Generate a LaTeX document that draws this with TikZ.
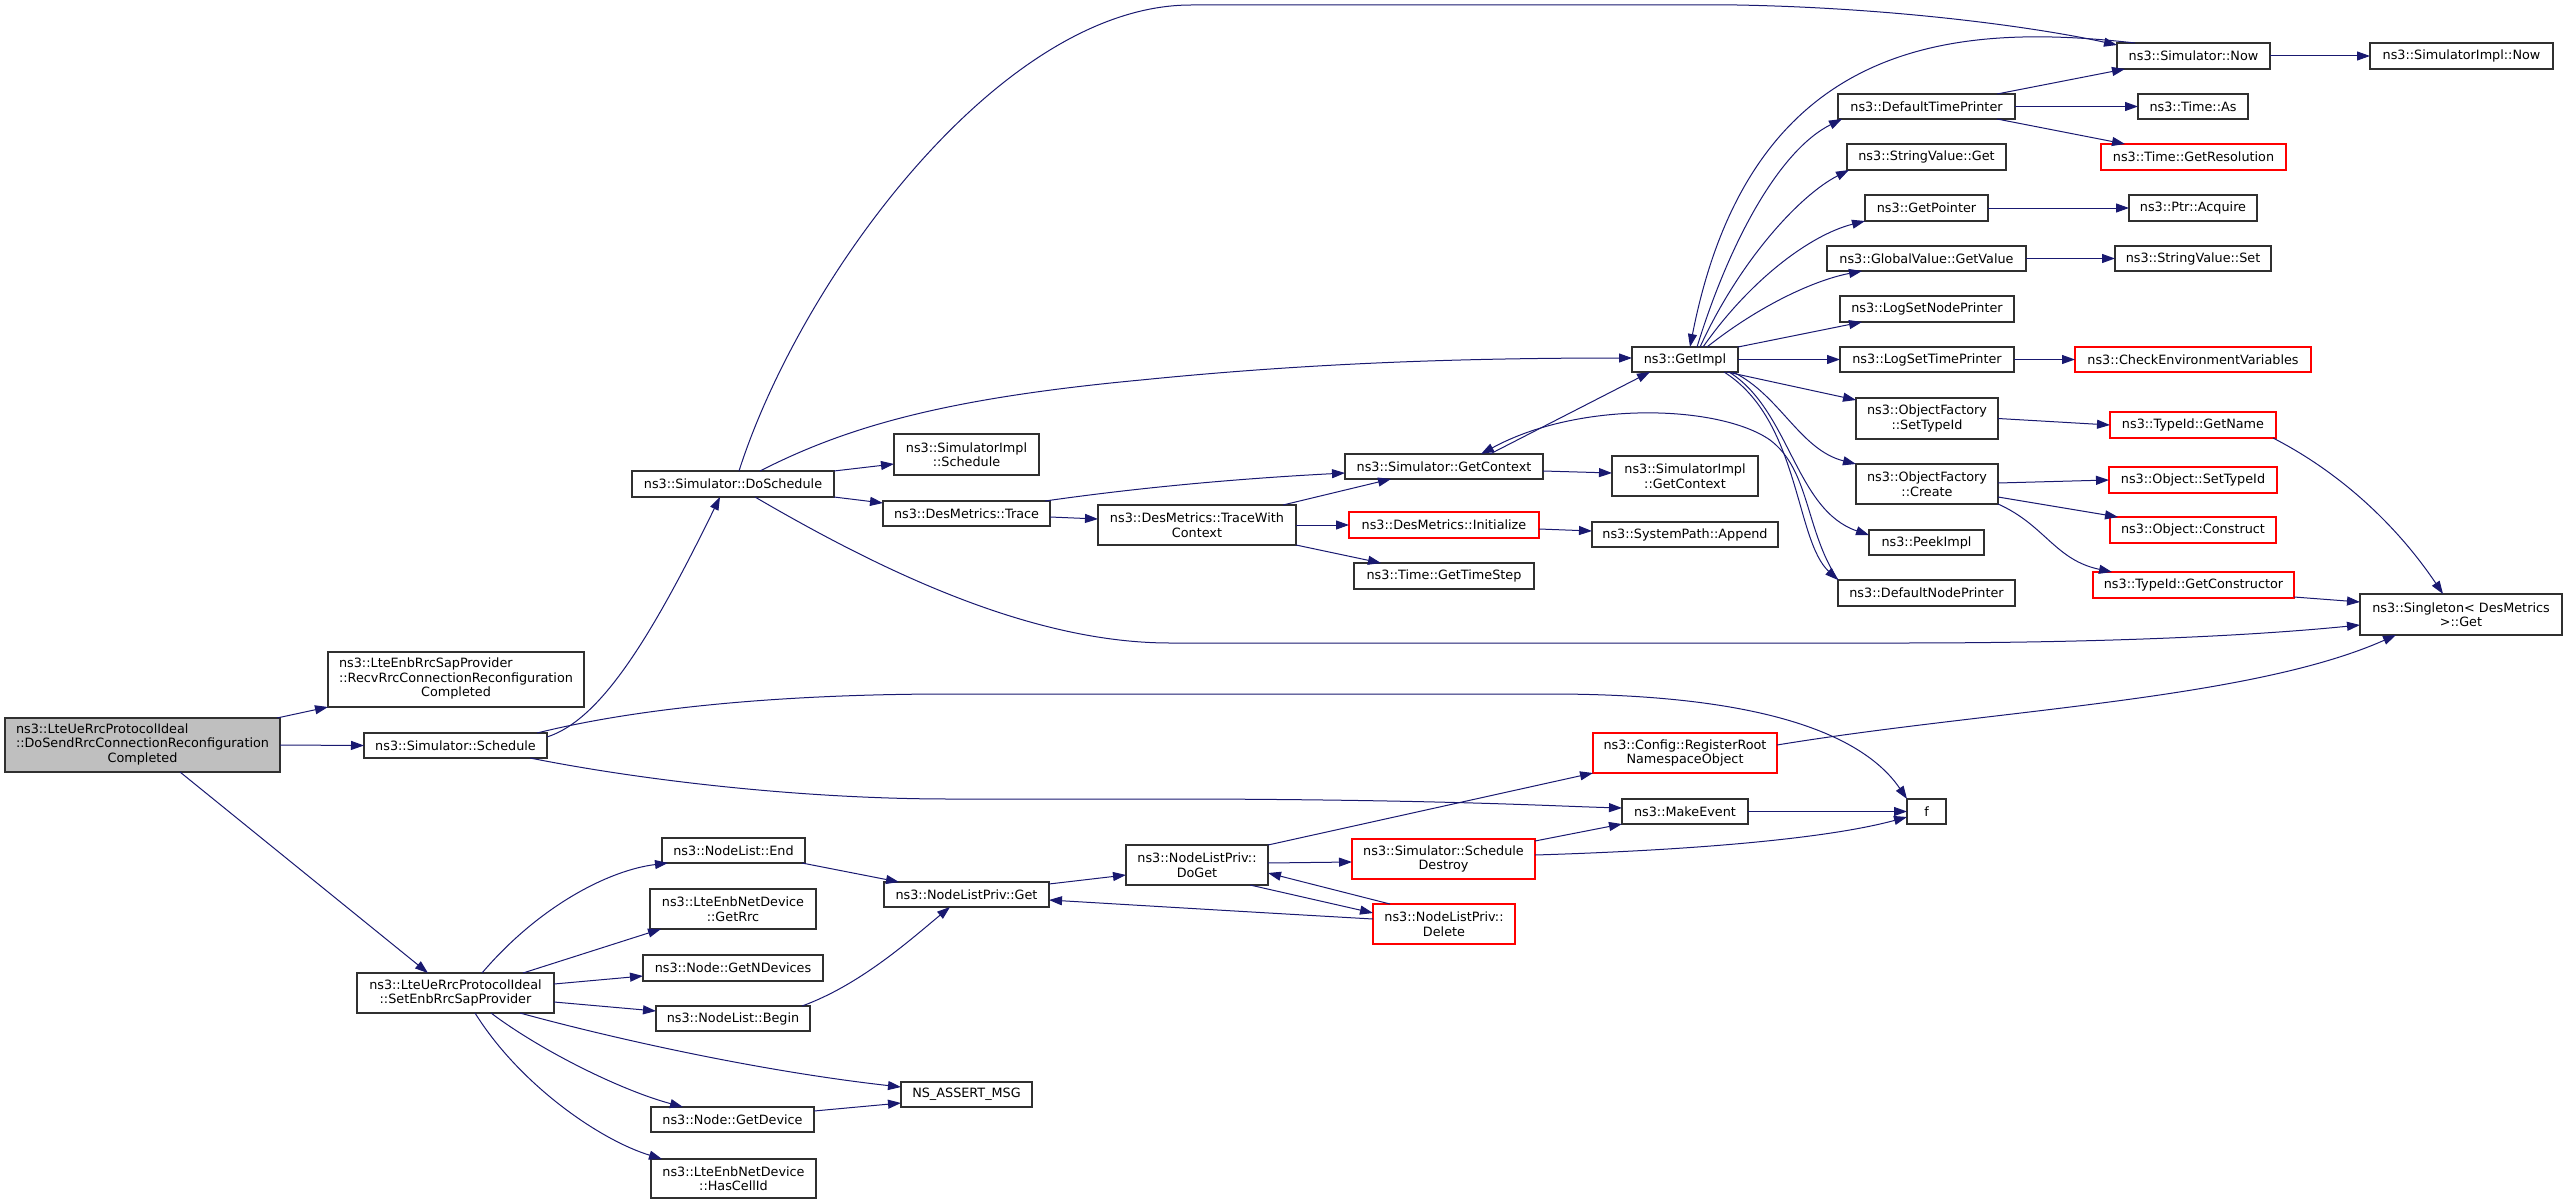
\documentclass[tikz,border=0pt]{standalone}
\usepackage{fontspec}
\setmainfont{DejaVu Sans}
\usetikzlibrary{arrows.meta,calc}
\definecolor{edgec}{HTML}{191970}
\definecolor{bordc}{HTML}{303030}
\definecolor{redc}{HTML}{FF0000}
\definecolor{rootfill}{HTML}{BFBFBF}
\newcommand{\dvf}{\fontsize{12.8pt}{14.5pt}\selectfont}
\newcommand{\mknode}[7][]{\node[box,#1,minimum width={(#5-#3)*1pt},minimum height={(#6-#4)*1pt}] (#2) at ({(#3+#5)/2},{(#4+#6)/2}) {#7};}
\newcommand{\threel}[3]{\begin{tabular}{@{}l@{}}#1\\#2\\\multicolumn{1}{@{}c@{}}{#3}\end{tabular}}
\begin{document}
\begin{tikzpicture}[x=1pt,y=-1pt,
  box/.style={draw=bordc,line width=1.2pt,inner sep=0pt,outer sep=0pt,align=center,font=\dvf,fill=white},
  redbox/.style={draw=redc},
  rootbox/.style={fill=rootfill},
  edge/.style={draw=edgec,line width=1pt,-{Triangle[length=13pt,width=9pt]}}]
\useasboundingbox (0,0) rectangle (2568,1204);
% nodes
\mknode[rootbox]{root}{5}{718}{280}{772}{\threel{ns3::LteUeRrcProtocolIdeal}{::DoSendRrcConnectionReconfiguration}{Completed}}
\mknode{recv}{328}{652}{584}{707}{\threel{ns3::LteEnbRrcSapProvider}{::RecvRrcConnectionReconfiguration}{Completed}}
\mknode{sched}{364}{733}{547}{758}{ns3::Simulator::Schedule}
\mknode{setenb}{357}{973}{554}{1013}{ns3::LteUeRrcProtocolIdeal\\::SetEnbRrcSapProvider}
\mknode{doschedule}{632}{471}{834}{497}{ns3::Simulator::DoSchedule}
\mknode{simimplsched}{894}{434}{1039}{475}{ns3::SimulatorImpl\\::Schedule}
\mknode{trace}{883}{501}{1050}{526}{ns3::DesMetrics::Trace}
\mknode{tracewith}{1098}{505}{1296}{545}{ns3::DesMetrics::TraceWith\\Context}
\mknode{getctx}{1345}{454}{1543}{479}{ns3::Simulator::GetContext}
\mknode[redbox]{init}{1349}{512}{1539}{538}{ns3::DesMetrics::Initialize}
\mknode{timestep}{1354}{563}{1534}{589}{ns3::Time::GetTimeStep}
\mknode{simimplctx}{1612}{456}{1758}{496}{ns3::SimulatorImpl\\::GetContext}
\mknode{append}{1592}{522}{1778}{547}{ns3::SystemPath::Append}
\mknode{getimpl}{1632}{347}{1738}{372}{ns3::GetImpl}
\mknode{now}{2117}{43}{2270}{69}{ns3::Simulator::Now}
\mknode{simimplnow}{2370}{43}{2553}{69}{ns3::SimulatorImpl::Now}
\mknode{dtp}{1838}{94}{2015}{119}{ns3::DefaultTimePrinter}
\mknode{timeas}{2138}{94}{2248}{119}{ns3::Time::As}
\mknode[redbox]{getres}{2101}{144}{2286}{170}{ns3::Time::GetResolution}
\mknode{svget}{1847}{144}{2006}{170}{ns3::StringValue::Get}
\mknode{getptr}{1865}{195}{1988}{221}{ns3::GetPointer}
\mknode{acquire}{2129}{195}{2257}{221}{ns3::Ptr::Acquire}
\mknode{gvget}{1827}{246}{2026}{271}{ns3::GlobalValue::GetValue}
\mknode{svset}{2115}{246}{2271}{271}{ns3::StringValue::Set}
\mknode{lsnp}{1840}{296}{2014}{322}{ns3::LogSetNodePrinter}
\mknode{lstp}{1840}{347}{2014}{372}{ns3::LogSetTimePrinter}
\mknode[redbox]{checkenv}{2075}{347}{2311}{372}{ns3::CheckEnvironmentVariables}
\mknode{ofset}{1856}{398}{1998}{439}{ns3::ObjectFactory\\::SetTypeId}
\mknode[redbox]{getname}{2110}{412}{2276}{438}{ns3::TypeId::GetName}
\mknode{ofcreate}{1856}{464}{1998}{504}{ns3::ObjectFactory\\::Create}
\mknode[redbox]{objset}{2109}{467}{2277}{493}{ns3::Object::SetTypeId}
\mknode[redbox]{objconstruct}{2110}{517}{2276}{543}{ns3::Object::Construct}
\mknode{peekimpl}{1869}{530}{1984}{555}{ns3::PeekImpl}
\mknode{dnp}{1838}{580}{2015}{606}{ns3::DefaultNodePrinter}
\mknode[redbox]{getctor}{2093}{572}{2294}{598}{ns3::TypeId::GetConstructor}
\mknode{singleton}{2360}{594}{2562}{635}{ns3::Singleton< DesMetrics\\ >::Get}
\mknode[redbox]{regroot}{1593}{733}{1777}{773}{ns3::Config::RegisterRoot\\NamespaceObject}
\mknode{makeevent}{1622}{799}{1748}{824}{ns3::MakeEvent}
\mknode{f}{1907}{799}{1946}{824}{f}
\mknode{doget}{1126}{845}{1268}{885}{ns3::NodeListPriv::\\DoGet}
\mknode[redbox]{schedDestroy}{1352}{839}{1535}{879}{ns3::Simulator::Schedule\\Destroy}
\mknode[redbox]{delete}{1373}{904}{1515}{944}{ns3::NodeListPriv::\\Delete}
\mknode{nlpget}{884}{882}{1049}{907}{ns3::NodeListPriv::Get}
\mknode{nlend}{662}{838}{805}{863}{ns3::NodeList::End}
\mknode{getrrc}{650}{889}{816}{929}{ns3::LteEnbNetDevice\\::GetRrc}
\mknode{getndev}{643}{955}{823}{981}{ns3::Node::GetNDevices}
\mknode{nlbegin}{656}{1006}{810}{1031}{ns3::NodeList::Begin}
\mknode{getdevice}{651}{1107}{814}{1132}{ns3::Node::GetDevice}
\mknode{hascell}{651}{1159}{816}{1198}{ns3::LteEnbNetDevice\\::HasCellId}
\mknode{assert}{901}{1082}{1032}{1107}{NS\_ASSERT\_MSG}
% edges from root
\draw[edge] ($(root.north east)+(-3,0)$) -- (recv.south west);
\draw[edge] (root.east) -- (sched.west);
\draw[edge] ($(root.south west)+(175,0)$) -- ($(setenb.north west)+(71,0)$);
% Simulator::Schedule
\draw[edge] ($(sched.north east)+(0,4)$) .. controls (600,720) and (650,640) .. ($(doschedule.south west)+(88,0)$);
\draw[edge] ($(sched.north east)+(-10,0)$) .. controls (650,705) and (800,694) .. (950,694) -- (1550,694) .. controls (1750,694) and (1860,730) .. (f.north west);
\draw[edge] ($(sched.south east)+(-17,0)$) .. controls (640,780) and (800,799) .. (950,799) -- (1200,799) .. controls (1450,800) and (1550,806) .. ($(makeevent.north west)+(0,9)$);
% DoSchedule
\draw[edge] ($(doschedule.north west)+(107,0)$) .. controls (800,280) and (1000,5) .. (1191,5) -- (1737,5) .. controls (1900,8) and (2040,28) .. ($(now.north west)+(0,2)$);
\draw[edge] ($(doschedule.north west)+(128,0)$) .. controls (850,425) and (950,398) .. (1141,380) .. controls (1300,364) and (1450,358) .. ($(getimpl.north west)+(0,11)$);
\draw[edge] (doschedule.north east) -- ($(simimplsched.north west)+(0,30)$);
\draw[edge] (doschedule.south east) -- ($(trace.north west)+(0,2)$);
\draw[edge] ($(doschedule.south west)+(123,0)$) .. controls (880,570) and (1030,643) .. (1170,643) -- (1900,643) .. controls (2100,643) and (2250,636) .. ($(singleton.north west)+(0,31)$);
% DesMetrics
\draw[edge] ($(trace.north east)+(-5,0)$) .. controls (1150,486) and (1250,478) .. ($(getctx.north west)+(0,19)$);
\draw[edge] ($(trace.north east)+(0,16)$) -- ($(tracewith.north west)+(0,14)$);
\draw[edge] ($(tracewith.north east)+(-13,0)$) -- ($(getctx.south west)+(46,0)$);
\draw[edge] (tracewith.east) -- (init.west);
\draw[edge] (tracewith.south east) -- ($(timestep.north west)+(27,0)$);
\draw[edge] ($(init.north east)+(0,17)$) -- ($(append.north west)+(0,9)$);
% GetContext
\draw[edge] ($(getctx.north east)+(0,17)$) -- ($(simimplctx.north west)+(0,17)$);
\draw[edge] ($(getctx.north west)+(145,0)$) -- ($(getimpl.south west)+(18,0)$);
\draw[edge] (dnp.north west) .. controls (1805,530) and (1810,470) .. (1770,440) .. controls (1720,405) and (1580,400) .. ($(getctx.north west)+(136,0)$);
% Now
\draw[edge] ($(now.north west)+(18,0)$) .. controls (1950,22) and (1750,40) .. ($(getimpl.north west)+(58,0)$);
\draw[edge] (now.east) -- (simimplnow.west);
% GetImpl fan
\draw[edge] ($(getimpl.north west)+(65,0)$) .. controls (1730,240) and (1780,150) .. ($(dtp.south west)+(4,0)$);
\draw[edge] ($(getimpl.north west)+(68,0)$) .. controls (1740,260) and (1800,195) .. ($(svget.south west)+(2,0)$);
\draw[edge] ($(getimpl.north west)+(71,0)$) .. controls (1750,280) and (1810,235) .. (getptr.south west);
\draw[edge] ($(getimpl.north west)+(75,0)$) .. controls (1760,305) and (1815,280) .. ($(gvget.south west)+(35,0)$);
\draw[edge] (getimpl.north east) -- ($(lsnp.south west)+(22,0)$);
\draw[edge] (getimpl.east) -- (lstp.west);
\draw[edge] ($(getimpl.south east)+(-11,0)$) -- ($(ofset.north west)+(0,2)$);
\draw[edge] ($(getimpl.south east)+(-5,0)$) .. controls (1780,395) and (1800,450) .. (ofcreate.north west);
\draw[edge] ($(getimpl.south east)+(-9,0)$) .. controls (1790,410) and (1795,510) .. ($(peekimpl.north west)+(0,5)$);
\draw[edge] ($(getimpl.south east)+(-14,0)$) .. controls (1800,420) and (1795,540) .. (dnp.north west);
% DefaultTimePrinter etc
\draw[edge] ($(dtp.north east)+(-18,0)$) -- ($(now.south west)+(8,0)$);
\draw[edge] (dtp.east) -- (timeas.west);
\draw[edge] ($(dtp.south east)+(-18,0)$) -- ($(getres.north west)+(24,0)$);
\draw[edge] (getptr.east) -- (acquire.west);
\draw[edge] (gvget.east) -- (svset.west);
\draw[edge] (lstp.east) -- (checkenv.west);
% ObjectFactory
\draw[edge] (ofset.east) -- (getname.west);
\draw[edge] ($(ofcreate.north east)+(0,19)$) -- ($(objset.north west)+(0,13)$);
\draw[edge] ($(ofcreate.north east)+(0,33)$) -- ($(objconstruct.north west)+(8,0)$);
\draw[edge] (ofcreate.south east) .. controls (2045,525) and (2055,560) .. ($(getctor.north west)+(19,0)$);
\draw[edge] ($(getname.south east)+(-3,0)$) .. controls (2345,475) and (2400,530) .. ($(singleton.north west)+(83,0)$);
\draw[edge] ($(getctor.north east)+(0,25)$) -- ($(singleton.north west)+(0,8)$);
\draw[edge] ($(regroot.north east)+(0,12)$) .. controls (1990,710) and (2250,700) .. ($(singleton.south west)+(36,0)$);
% SetEnbRrcSapProvider
\draw[edge] ($(setenb.north west)+(125,0)$) .. controls (540,905) and (610,870) .. ($(nlend.south west)+(6,0)$);
\draw[edge] ($(setenb.north west)+(166,0)$) -- ($(getrrc.south west)+(11,0)$);
\draw[edge] ($(setenb.north east)+(0,11)$) -- ($(getndev.north west)+(0,21)$);
\draw[edge] ($(setenb.north east)+(0,29)$) -- ($(nlbegin.north west)+(0,5)$);
\draw[edge] ($(setenb.south west)+(163,0)$) .. controls (600,1035) and (750,1070) .. ($(assert.north west)+(0,5)$);
\draw[edge] ($(setenb.south west)+(134,0)$) .. controls (540,1050) and (620,1090) .. ($(getdevice.north west)+(32,0)$);
\draw[edge] ($(setenb.south west)+(118,0)$) .. controls (520,1085) and (600,1140) .. ($(hascell.north west)+(11,0)$);
\draw[edge] ($(nlend.south east)+(-3,0)$) -- ($(nlpget.north west)+(15,0)$);
\draw[edge] ($(nlbegin.north east)+(-8,0)$) .. controls (860,985) and (910,940) .. ($(nlpget.south west)+(66,0)$);
\draw[edge] ($(getdevice.north east)+(0,4)$) -- ($(assert.north west)+(0,21)$);
% NodeListPriv
\draw[edge] ($(nlpget.north east)+(0,2)$) -- ($(doget.north west)+(0,30)$);
\draw[edge] (doget.north east) -- (regroot.south west);
\draw[edge] ($(doget.north east)+(0,18)$) -- ($(schedDestroy.north west)+(0,23)$);
\draw[edge] ($(doget.south east)+(-18,0)$) -- ($(delete.north west)+(0,9)$);
\draw[edge] ($(delete.north west)+(17,0)$) -- ($(doget.north east)+(0,28)$);
\draw[edge] ($(delete.north west)+(0,15)$) .. controls (1250,912) and (1150,906) .. ($(nlpget.north east)+(0,18)$);
\draw[edge] ($(schedDestroy.north east)+(0,2)$) -- (makeevent.south west);
\draw[edge] ($(schedDestroy.north east)+(0,16)$) .. controls (1700,850) and (1830,838) .. ($(f.north west)+(0,18)$);
\draw[edge] (makeevent.east) -- (f.west);
\end{tikzpicture}
\end{document}
